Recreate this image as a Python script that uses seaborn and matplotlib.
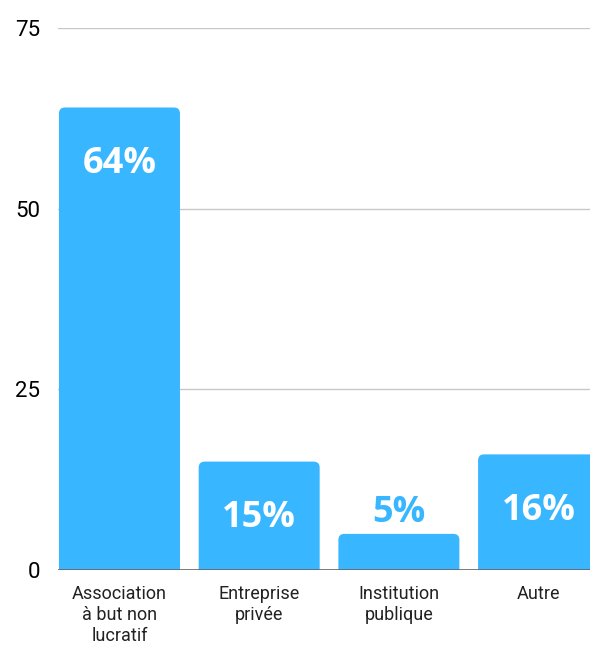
import numpy as np
import pandas as pd
import seaborn as sns
from matplotlib import pyplot as plt
from matplotlib.patches import FancyBboxPatch

categories = ["Association\nà but non\nlucratif", "Entreprise\nprivée", "Institution\npublique", "Autre"]
values = [64, 15, 5, 16]
value_labels = ["64%", "15%", "5%", "16%"]

BLUE = "#38b6ff"

sns.set_theme(style="white")
plt.rcParams['font.family'] = ['Roboto', 'DejaVu Sans']

fig = plt.figure(figsize=(5.9, 6.46), dpi=100)
ax = fig.add_axes([58 / 590, 76 / 646, 532 / 590, 542 / 646])

df = pd.DataFrame({"cat": categories, "val": values})
sns.barplot(df, x="cat", y="val", color=BLUE, saturation=1, width=0.866, ax=ax)

ax.set_xlim(-0.44, 3.368)
ax.set_ylim(0, 75)

# swap plain bars for ones with rounded top corners
px_x = 532 / (3.368 + 0.44)
px_y = 542 / 75
r = 6 / px_x
for p in list(ax.patches):
    x0, w, h = p.get_x(), p.get_width(), p.get_height()
    p.remove()
    box = FancyBboxPatch((x0, -2), w, h + 2,
                         boxstyle=f"round,pad=0,rounding_size={r}",
                         mutation_aspect=px_x / px_y,
                         facecolor=BLUE, edgecolor="none", zorder=2)
    ax.add_patch(box)

lab_font = ["Open Sans", "DejaVu Sans"]
for i, (v, lab) in enumerate(zip(values, value_labels)):
    if v > 10:
        ax.text(i, v - 7.8, lab, ha="center", va="center", color="white",
                fontsize=26, fontweight="bold", family=lab_font, zorder=3)
    else:
        ax.text(i, v + 2.9, lab, ha="center", va="center", color=BLUE,
                fontsize=26, fontweight="bold", family=lab_font, zorder=3)

ax.set_yticks([0, 25, 50, 75])
ax.yaxis.grid(True, color="#c8c8c8", linewidth=1)
ax.set_axisbelow(True)
ax.axhline(0, color="#666666", linewidth=1.2, zorder=4)
for s in ax.spines.values():
    s.set_visible(False)

ax.set_xlabel("")
ax.set_ylabel("")
ax.tick_params(axis="y", length=0, pad=13, labelsize=16, labelcolor="black")
ax.tick_params(axis="x", length=0, pad=11, labelsize=13, labelcolor="#222222")
for t in ax.get_xticklabels():
    t.set_linespacing(1.2)

fig.savefig("out.png", dpi=100)
